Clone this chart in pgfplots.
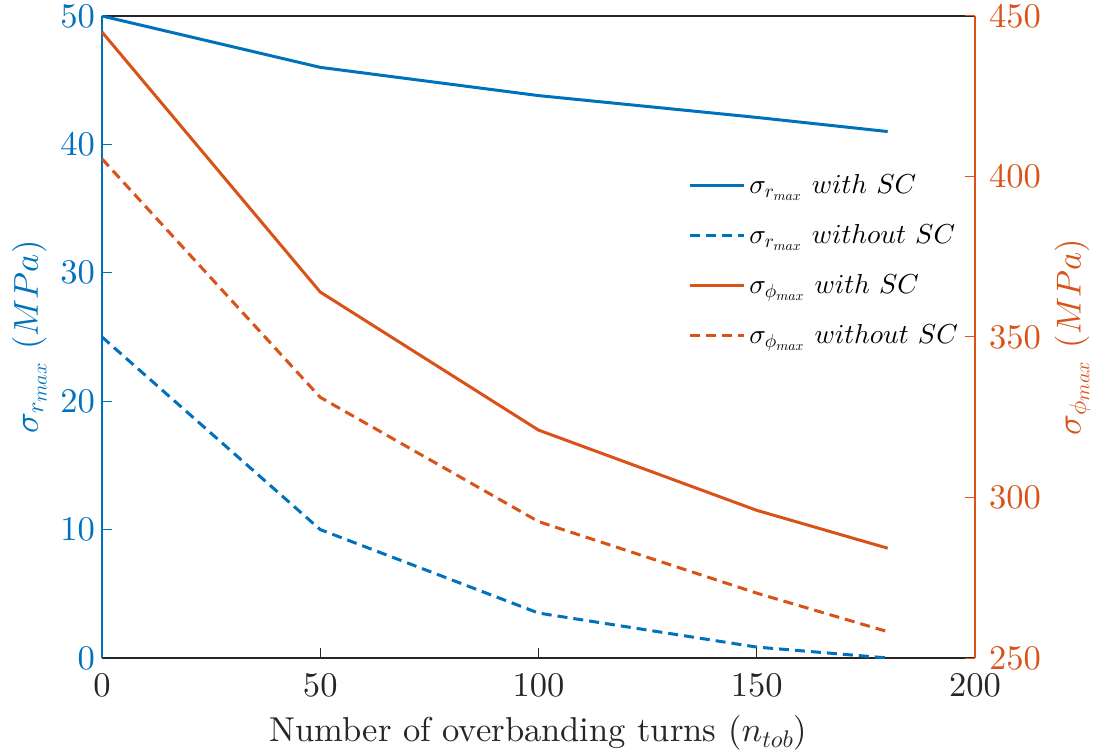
\documentclass[border=0pt]{standalone}
\usepackage{pgfplots}
\pgfplotsset{compat=1.18}
\DeclareFontFamily{OT1}{cmrten}{\hyphenchar\font45 }
\DeclareFontShape{OT1}{cmrten}{m}{n}{<-> cmr10}{}
\DeclareFontFamily{OML}{cmmten}{\skewchar\font127 }
\DeclareFontShape{OML}{cmmten}{m}{it}{<-> cmmi10}{}
\DeclareSymbolFont{operators}{OT1}{cmrten}{m}{n}
\DeclareSymbolFont{letters}{OML}{cmmten}{m}{it}
\DeclareFontFamily{TU}{lmrten}{}
\DeclareFontShape{TU}{lmrten}{m}{n}{<-> "[lmroman10-regular]:mapping=tex-text;"}{}
\renewcommand\rmdefault{lmrten}
\definecolor{mblue}{rgb}{0,0.447,0.741}
\definecolor{morange}{rgb}{0.85,0.325,0.098}
\definecolor{mgray}{rgb}{0.15,0.15,0.15}
\begin{document}
\begin{tikzpicture}
\path[use as bounding box] (-51pt,-45.5pt) rectangle (497pt,329pt);
\pgfplotsset{every axis/.append style={
  scale only axis, width=436.5pt, height=321pt,
  xmin=0, xmax=200,
  font=\fontsize{17.28}{20}\selectfont,
  tick align=inside, major tick length=5pt,
  every tick/.style={line width=0.5pt},
}}
\begin{axis}[
  ymin=0, ymax=50,
  axis y line*=left, axis x line*=box,
  xtick pos=bottom,
  xtick={0,50,100,150,200},
  ytick={0,10,20,30,40,50},
  x axis line style={mgray, line width=0.6pt},
  y axis line style={mblue, line width=0.6pt},
  x tick style={mgray},
  y tick style={mblue},
  xticklabel style={text=mgray, yshift=-4.5pt},
  yticklabel style={text=mblue},
  xlabel={Number of overbanding turns ($n_{tob}$)},
  xlabel style={text=mgray, yshift=-3pt},
  ylabel={$\sigma_{r_{max}}\ (MPa)$},
  ylabel style={text=mblue},
]
\addplot[mblue, line width=1.5pt] coordinates {(0,50)(50,46)(100,43.8)(150,42.1)(180,41)};
\addplot[mblue, line width=1.5pt, dash pattern=on 5pt off 3pt] coordinates {(0,25)(50,10)(100,3.5)(150,0.85)(180,0)};
\end{axis}
\begin{axis}[
  ymin=250, ymax=450,
  axis y line*=right, axis x line=none,
  ytick={250,300,350,400,450},
  y axis line style={morange, line width=0.6pt},
  y tick style={morange},
  yticklabel style={text=morange, xshift=3.5pt},
  ylabel={$\sigma_{\phi_{max}}\ (MPa)$},
  ylabel style={text=morange},
  legend style={draw=none, fill=none, at={(rel axis cs:0.671,0.76)}, anchor=north west,
    font=\fontsize{13.7}{16}\selectfont, row sep=10pt, inner sep=0pt},
  legend cell align=left,
  legend image code/.code={\draw[#1] (0cm,0cm) -- (0.95cm,0cm);},
]
\addlegendimage{mblue, line width=1.5pt}
\addlegendentry{$\sigma_{r_{max}}\ with\ SC$}
\addlegendimage{mblue, line width=1.5pt, dash pattern=on 5pt off 3pt}
\addlegendentry{$\sigma_{r_{max}}\ without\ SC$}
\addplot[morange, line width=1.5pt] coordinates {(0,445)(50,364)(100,321)(150,296)(180,284.2)};
\addlegendentry{$\sigma_{\phi_{max}}\ with\ SC$}
\addplot[morange, line width=1.5pt, dash pattern=on 5pt off 3pt] coordinates {(0,405.5)(50,331.2)(100,292.5)(150,270.2)(180,258.2)};
\addlegendentry{$\sigma_{\phi_{max}}\ without\ SC$}
\end{axis}
\end{tikzpicture}
\end{document}
